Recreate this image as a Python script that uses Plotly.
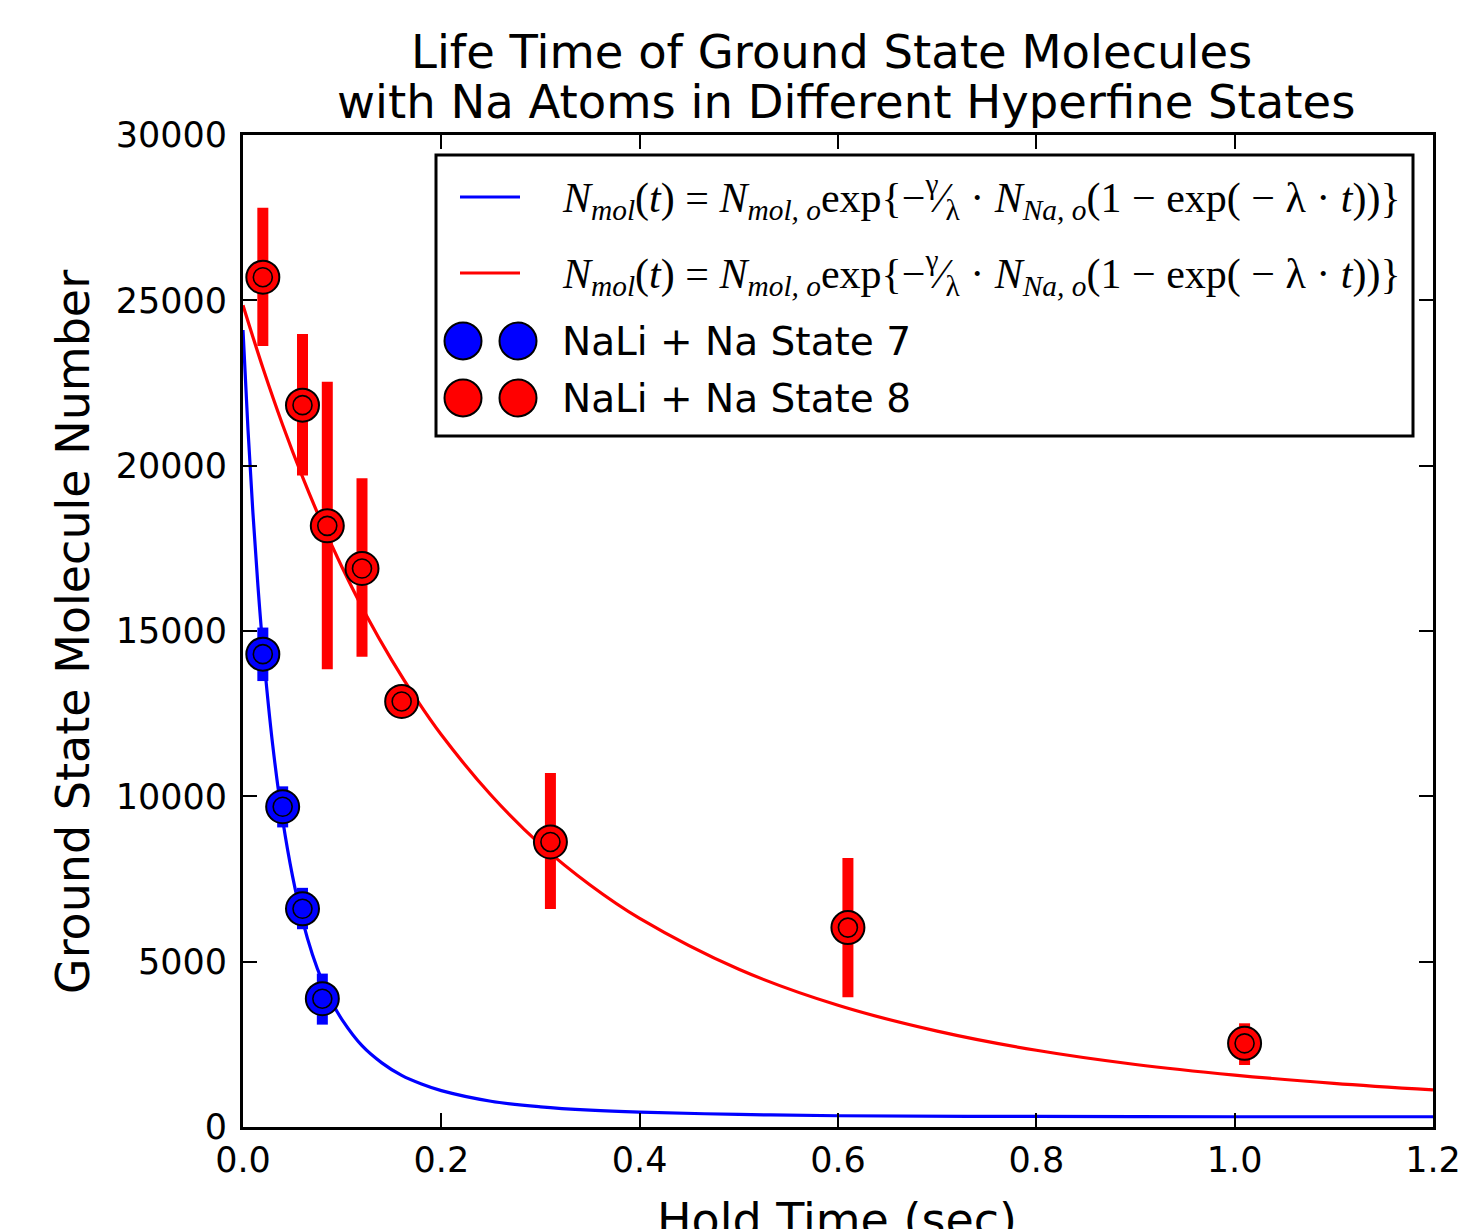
import plotly.graph_objects as go

# ---- data ----
red_t = [0.02, 0.06, 0.085, 0.12, 0.16, 0.31, 0.61, 1.01]
red_n = [25700, 21830, 18180, 16890, 12870, 8620, 6030, 2530]
red_hi = [27800, 23980, 22540, 19620, 13170, 10705, 8134, 3136]
red_lo = [23620, 19700, 13840, 14220, 12570, 6590, 3922, 1875]

blue_t = [0.02, 0.04, 0.06, 0.08]
blue_n = [14300, 9685, 6600, 3880]
blue_hi = [15104, 10302, 7233, 4639]
blue_lo = [13486, 9060, 5981, 3096]

# fitted curves, values
red_fit_t = [0, 0.02, 0.04, 0.06, 0.08, 0.1, 0.125, 0.15, 0.175, 0.2, 0.25, 0.3, 0.35,
             0.4, 0.5, 0.6, 0.7, 0.8, 0.9, 1.0, 1.1, 1.2]
red_fit_n = [24850, 22960, 21230, 19660, 18230, 16920, 15440, 14120, 12930, 11860, 10040,
             8540, 7320, 6310, 4770, 3680, 2900, 2320, 1890, 1570, 1320, 1120]
blue_fit_t = [0, 0.005, 0.01, 0.015, 0.02, 0.03, 0.04, 0.05, 0.06, 0.07, 0.08, 0.09, 0.1,
              0.12, 0.14, 0.16, 0.18, 0.2, 0.25, 0.3, 0.35, 0.4, 0.5, 0.6, 0.8, 1.0, 1.2]
blue_fit_n = [24100, 21110, 18570, 16390, 14530, 11540, 9290, 7580, 6250, 5220, 4410, 3760,
              3240, 2460, 1940, 1560, 1300, 1100, 780, 610, 510, 450, 380, 340, 320, 310, 310]

x_ticks = [0.0, 0.2, 0.4, 0.6, 0.8, 1.0, 1.2]
x_tick_text = ["0.0", "0.2", "0.4", "0.6", "0.8", "1.0", "1.2"]
y_ticks = [0, 5000, 10000, 15000, 20000, 25000, 30000]
y_tick_text = ["0", "5000", "10000", "15000", "20000", "25000", "30000"]

title_lines = ["Life Time of Ground State Molecules", "with Na Atoms in Different Hyperfine States"]
x_title = "Hold Time (sec)"
y_title = "Ground State Molecule Number"
legend_labels = ["NaLi + Na State 7", "NaLi + Na State 8"]
formula = ("<i>N</i><sub><i>mol</i></sub>(<i>t</i>) = <i>N</i><sub><i>mol, o</i></sub>exp{−"
           "<sup>γ</sup>⁄<sub>λ</sub> · <i>N</i><sub><i>Na, o</i></sub>(1 − exp( − λ · <i>t</i>))}")

RED = "#ff0000"
BLUE = "#0000ff"

fig = go.Figure()
fig.add_trace(go.Scatter(x=blue_fit_t, y=blue_fit_n, mode="lines", line=dict(color=BLUE, width=3.2, shape="spline"),
                         showlegend=False, hoverinfo="skip"))
fig.add_trace(go.Scatter(x=red_fit_t, y=red_fit_n, mode="lines", line=dict(color=RED, width=3.2, shape="spline"),
                         showlegend=False, hoverinfo="skip"))


def add_points(t, n, hi, lo, color):
    up = [h - v for h, v in zip(hi, n)]
    dn = [v - l for v, l in zip(n, lo)]
    fig.add_trace(go.Scatter(x=t, y=n, mode="markers",
                             marker=dict(size=33, color=color, line=dict(color="black", width=2)),
                             error_y=dict(type="data", symmetric=False, array=up, arrayminus=dn,
                                          color=color, thickness=11, width=0),
                             showlegend=False))
    fig.add_trace(go.Scatter(x=t, y=n, mode="markers",
                             marker=dict(size=19, color=color, line=dict(color="black", width=1.6)),
                             showlegend=False, hoverinfo="skip"))


add_points(red_t, red_n, red_hi, red_lo, RED)
add_points(blue_t, blue_n, blue_hi, blue_lo, BLUE)

# reference-picture pixel coordinates of the plot frame (page margin removed below)
RL, RR, RT, RB = 243, 1433, 135, 1127
PW, PH = RR - RL, RB - RT
W, H = 1458, 1229


def px(xp):
    return (xp - RL) / PW


def py(yp):
    return (RB - yp) / PH


shapes = [dict(type="rect", xref="paper", yref="paper", x0=px(436), x1=px(1413), y0=py(436), y1=py(155),
               line=dict(color="black", width=3), fillcolor="white", layer="above")]
for yy, col in [(197, BLUE), (273, RED)]:
    shapes.append(dict(type="line", xref="paper", yref="paper", x0=px(460), x1=px(520), y0=py(yy), y1=py(yy),
                       line=dict(color=col, width=3), layer="above"))
for yy, col in [(341, BLUE), (398, RED)]:
    for xx in (463, 518):
        shapes.append(dict(type="circle", xref="paper", yref="paper", xsizemode="pixel", ysizemode="pixel",
                           xanchor=px(xx), yanchor=py(yy), x0=-18.5, x1=18.5, y0=-18.5, y1=18.5,
                           fillcolor=col, line=dict(color="black", width=2), layer="above"))

annotations = []
for yy in (197, 273):
    annotations.append(dict(xref="paper", yref="paper", x=px(560), y=py(yy), xanchor="left", yanchor="middle",
                            text=formula, showarrow=False,
                            font=dict(family="Liberation Serif", size=42, color="black")))
for yy, lab in zip((341, 398), legend_labels):
    annotations.append(dict(xref="paper", yref="paper", x=px(560), y=py(yy), xanchor="left", yanchor="middle",
                            text=lab, showarrow=False,
                            font=dict(family="DejaVu Sans", size=39, color="black")))
for yy, line in zip((52, 102), title_lines):
    annotations.append(dict(xref="paper", yref="paper", x=px(846) if yy == 102 else px(831), y=1,
                            yshift=RT - yy, xanchor="center", yanchor="middle",
                            text=line, showarrow=False,
                            font=dict(family="DejaVu Sans", size=46.5, color="black")))
annotations.append(dict(xref="paper", yref="paper", x=px(837), y=0, yshift=-64, xanchor="center", yanchor="top",
                        text=x_title, showarrow=False,
                        font=dict(family="DejaVu Sans", size=46, color="black")))
annotations.append(dict(xref="paper", yref="paper", x=0, xshift=73 - RL, y=py(632), xanchor="center",
                        yanchor="middle", text=y_title, textangle=-90, showarrow=False,
                        font=dict(family="DejaVu Sans", size=46, color="black")))

fig.update_layout(
    width=W, height=H,
    margin=dict(l=RL, r=W - RR, t=RT, b=H - RB, autoexpand=False),
    paper_bgcolor="white", plot_bgcolor="white",
    showlegend=False,
    shapes=shapes, annotations=annotations,
    font=dict(family="DejaVu Sans", color="black"),
)
fig.update_xaxes(range=[0, 1.2], tickmode="array", tickvals=x_ticks, ticktext=x_tick_text,
                 showgrid=False, zeroline=False, ticklabeloverflow="allow",
                 showline=True, linecolor="black", linewidth=3, mirror="allticks",
                 ticks="inside", ticklen=14, tickwidth=1.5, tickcolor="black",
                 tickfont=dict(size=35, family="DejaVu Sans", color="black"), ticklabelstandoff=0)
fig.update_yaxes(range=[0, 30000], tickmode="array", tickvals=y_ticks, ticktext=y_tick_text,
                 showgrid=False, zeroline=False, ticklabeloverflow="allow",
                 showline=True, linecolor="black", linewidth=3, mirror="allticks",
                 ticks="inside", ticklen=14, tickwidth=1.5, tickcolor="black",
                 tickfont=dict(size=35, family="DejaVu Sans", color="black"), ticklabelstandoff=6)

fig.write_html("out.html", config={"displayModeBar": False},
               post_script="document.body.style.margin='0';document.body.style.overflow='hidden';")
